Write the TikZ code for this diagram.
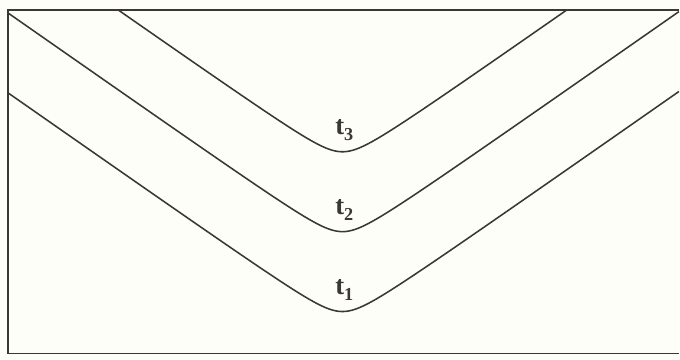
\documentclass[tikz,border=0pt]{standalone}
\usepackage{fontspec}
\setmainfont{Liberation Serif}
\definecolor{ink}{RGB}{58,56,48}
\definecolor{paper}{RGB}{254,254,248}
\newcommand\tsub[1]{t\raisebox{-4.5pt}{\fontsize{13}{13}\selectfont #1}}
\begin{document}
\begin{tikzpicture}[frame/.style={ink, line width=1.4pt},
  wave/.style={ink, line width=1.1pt, samples=200},
  tlabel/.style={ink, inner sep=0pt, anchor=base, font=\fontsize{19}{21}\selectfont\bfseries}]
\fill [paper] (0,0) rectangle (17,9);
\draw [frame] (17,8.74) -- (0.2,8.74) -- (0.2,0.15) -- (17,0.15);
\draw [wave, domain=2.975:14.175] plot (\x, {5.2+sqrt(0.16+(0.7*(\x-8.575))^2)-0.4});
\draw [wave, domain=0.2:17] plot (\x, {3.2+sqrt(0.16+(0.7*(\x-8.575))^2)-0.4});
\draw [wave, domain=0.2:17] plot (\x, {1.2+sqrt(0.16+(0.7*(\x-8.575))^2)-0.4});
\node [tlabel] (t3) at (8.62,5.63) {\tsub{3}};
\node [tlabel] (t2) at (8.62,3.63) {\tsub{2}};
\node [tlabel] (t1) at (8.62,1.63) {\tsub{1}};
\end{tikzpicture}
\end{document}
